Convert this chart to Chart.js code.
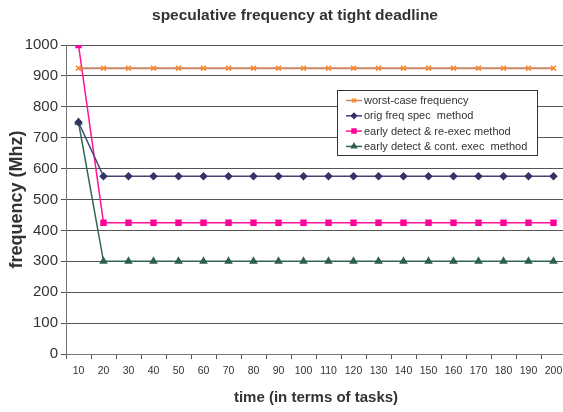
<!DOCTYPE html>
<html>
<head>
<meta charset="utf-8">
<script src="https://cdn.jsdelivr.net/npm/chart.js@4.4.1/dist/chart.umd.min.js"></script>
<style>
  html, body { margin: 0; padding: 0; background: #fff; overflow: hidden; }
  #wrap { width: 563px; height: 412px; overflow: hidden; }
  canvas { display: block; }
</style>
</head>
<body>
<div id="wrap"><canvas id="c" width="590" height="412"></canvas></div>
<script>
// Task counts along the horizontal axis
const taskCounts = [10, 20, 30, 40, 50, 60, 70, 80, 90, 100, 110, 120, 130, 140, 150, 160, 170, 180, 190, 200];

// Frequency (MHz) per scheme
const worstCaseFreq = [925, 925, 925, 925, 925, 925, 925, 925, 925, 925, 925, 925, 925, 925, 925, 925, 925, 925, 925, 925];
const origSpecFreq  = [750, 575, 575, 575, 575, 575, 575, 575, 575, 575, 575, 575, 575, 575, 575, 575, 575, 575, 575, 575];
const reExecFreq    = [1000, 425, 425, 425, 425, 425, 425, 425, 425, 425, 425, 425, 425, 425, 425, 425, 425, 425, 425, 425];
const contExecFreq  = [750, 300, 300, 300, 300, 300, 300, 300, 300, 300, 300, 300, 300, 300, 300, 300, 300, 300, 300, 300];

const seriesNames = [
  'worst-case frequency',
  'orig freq spec  method',
  'early detect & re-exec method',
  'early detect & cont. exec  method'
];

const chartTitle = 'speculative frequency at tight deadline';

const FONT = '"Liberation Sans", Arial, Helvetica, sans-serif';
const TEXT = '#333333';

// Chart heading, centred a little right of the canvas middle
const heading = {
  id: 'heading',
  afterDraw(chart) {
    const ctx = chart.ctx;
    ctx.save();
    ctx.font = 'bold 15.5px ' + FONT;
    ctx.fillStyle = TEXT;
    ctx.textAlign = 'center';
    ctx.textBaseline = 'middle';
    ctx.fillText(chartTitle, 295, 16);
    ctx.restore();
  }
};

// Boxed legend drawn inside the plot area
const boxLegend = {
  id: 'boxLegend',
  afterDatasetsDraw(chart) {
    const ctx = chart.ctx;
    const x0 = 337, y0 = 90, w = 200, h = 65;
    ctx.save();
    ctx.fillStyle = '#ffffff';
    ctx.fillRect(x0, y0, w, h);
    ctx.strokeStyle = '#333333';
    ctx.lineWidth = 1;
    ctx.strokeRect(x0 + 0.5, y0 + 0.5, w, h);
    ctx.font = '11px ' + FONT;
    ctx.textBaseline = 'middle';
    chart.data.datasets.forEach((ds, i) => {
      const y = y0 + 10.5 + i * 15.3;
      ctx.strokeStyle = ds.borderColor;
      ctx.lineWidth = 1.5;
      ctx.beginPath();
      ctx.moveTo(x0 + 9, y);
      ctx.lineTo(x0 + 25, y);
      ctx.stroke();
      ctx.strokeStyle = ds.pointBorderColor;
      ctx.fillStyle = ds.pointBackgroundColor;
      Chart.helpers.drawPoint(ctx, {
        pointStyle: ds.pointStyle,
        radius: ds.pointRadius * 0.8,
        rotation: 0,
        borderWidth: ds.pointBorderWidth || 1
      }, x0 + 17, y);
      ctx.fillStyle = TEXT;
      ctx.fillText(ds.label, x0 + 27, y + 0.5);
    });
    ctx.restore();
  }
};

new Chart(document.getElementById('c'), {
  type: 'line',
  data: {
    labels: taskCounts,
    datasets: [
      {
        label: seriesNames[0], data: worstCaseFreq,
        borderColor: '#CC8866', borderWidth: 2,
        pointStyle: 'crossRot', pointRadius: 3.5, pointBorderWidth: 1.5,
        pointBorderColor: '#FF8822', pointBackgroundColor: '#FF8822'
      },
      {
        label: seriesNames[1], data: origSpecFreq,
        borderColor: '#444477', borderWidth: 1.5,
        pointStyle: 'rectRot', pointRadius: 3.2,
        pointBorderColor: '#333366', pointBackgroundColor: '#333366'
      },
      {
        label: seriesNames[2], data: reExecFreq,
        borderColor: '#FF1199', borderWidth: 1.5,
        pointStyle: 'rect', pointRadius: 3.5,
        pointBorderColor: '#FF0099', pointBackgroundColor: '#FF0099'
      },
      {
        label: seriesNames[3], data: contExecFreq,
        borderColor: '#336655', borderWidth: 1.5,
        pointStyle: 'triangle', pointRadius: 3.5,
        pointBorderColor: '#2E5E4E', pointBackgroundColor: '#2E5E4E'
      }
    ]
  },
  options: {
    responsive: false,
    animation: false,
    layout: { padding: { left: 0, right: 24, top: 45, bottom: 0 } },
    elements: { line: { tension: 0 } },
    plugins: {
      legend: { display: false },
      tooltip: { enabled: false },
      title: { display: false }
    },
    scales: {
      x: {
        offset: true,
        grid: { offset: true, drawOnChartArea: false, drawTicks: true, tickLength: 5, color: '#555555' },
        border: { display: true, color: '#777777' },
        ticks: { color: TEXT, font: { family: FONT, size: 10.5 }, padding: 6, maxRotation: 0, autoSkip: false },
        title: {
          display: true, text: 'time (in terms of tasks)', color: TEXT,
          font: { family: FONT, size: 15, weight: 'bold' },
          padding: { top: 0, bottom: 5 }
        },
        afterFit(s) { s.height = 58; }
      },
      y: {
        min: 0, max: 1000,
        ticks: {
          stepSize: 100, color: TEXT, font: { family: FONT, size: 15 }, padding: 3,
          callback: (v) => String(v)
        },
        grid: { color: '#555555', lineWidth: 1, tickLength: 5 },
        border: { display: true, color: '#777777' },
        title: {
          display: true, text: 'frequency (Mhz)', color: TEXT,
          font: { family: FONT, size: 18, weight: 'bold' },
          padding: { top: 6, bottom: 0 }
        },
        afterFit(s) { s.width = 66; }
      }
    }
  },
  plugins: [boxLegend, heading]
});
</script>
</body>
</html>
